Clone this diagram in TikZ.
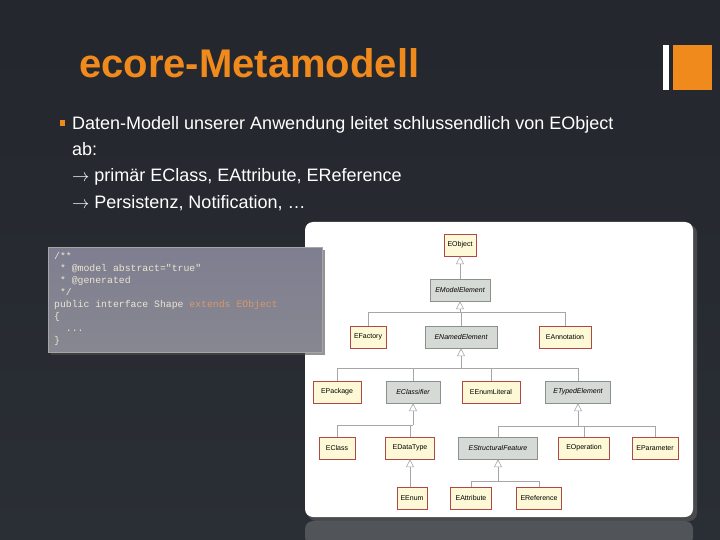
\documentclass[tikz,border=0pt]{standalone}
\usepackage{fontspec}
\setmainfont{Liberation Sans}
\newfontfamily\codefont{Liberation Mono}
\usetikzlibrary{arrows.meta}
\definecolor{slidebg}{HTML}{2A2E35}
\definecolor{titleorange}{HTML}{F08A1C}
\definecolor{clsfill}{HTML}{FDF9D6}
\definecolor{clsdraw}{HTML}{B04848}
\definecolor{absfill}{HTML}{D6DAD6}
\definecolor{absdraw}{HTML}{8A908A}
\definecolor{codetext}{HTML}{ECE6D0}
\definecolor{codekey}{HTML}{D89A68}
\tikzset{
  cls/.style={
    rectangle, draw=clsdraw, fill=clsfill,
    thin, text centered, font=\fontsize{7}{8}\selectfont,
    minimum height=22pt, inner sep=2pt
  },
  abs/.style={
    cls, draw=absdraw, fill=absfill,
    font=\fontsize{7}{8}\selectfont\itshape
  },
  bullet/.style={anchor=base west, text=white, inner sep=0pt, font=\fontsize{18}{20}\selectfont},
  code/.style={anchor=base west, inner sep=0pt},
  link/.style={draw=gray!70, line width=0.6pt},
  gen/.style={link, {Triangle[open, length=8pt, width=8pt, fill=white]}-}
}

\begin{document}
\begin{tikzpicture}[x=1pt, y=-1pt]

% ==============================================================================
% Slide background
% ==============================================================================
\useasboundingbox (0,0) rectangle (720,540);
\shade[top color=slidebg!85!black, bottom color=slidebg] (0,0) rectangle (720,540);

% corner mark
\fill[white] (663,45) rectangle (669,90);
\fill[titleorange] (673,45) rectangle (712,90);

% ==============================================================================
% Title and bullets
% ==============================================================================
\node[anchor=base west, inner sep=0pt, text=titleorange, font=\fontsize{40}{42}\selectfont\bfseries] (title) at (79,78) {ecore-Metamodell};

\fill[titleorange] (60,120) rectangle (65,126);
\node[bullet] (b1) at (72,130) {Daten-Modell unserer Anwendung leitet schlussendlich von EObject};
\node[bullet] (b2) at (72,156) {ab:};
\node[bullet] (b3) at (72,182) {$\rightarrow$ primär EClass, EAttribute, EReference};
\node[bullet] (b4) at (72,208) {$\rightarrow$ Persistenz, Notification, \dots};

% ==============================================================================
% Diagram panel
% ==============================================================================
\fill[black!60, opacity=0.5, rounded corners=8pt] (308,225) rectangle (697,521);
\fill[white, rounded corners=8pt] (305,222) rectangle (693,517);
\fill[gray!45, opacity=0.25, rounded corners=8pt] (305,521) rectangle (693,545);

% ==============================================================================
% Code box
% ==============================================================================
\fill[black!70, opacity=0.6] (51,250) rectangle (325,355);
\shade[top color=gray!55!blue!30!black!55, bottom color=gray!60!blue!20!black!50, draw=gray!70] (48,247) rectangle (322,352);
\begin{scope}[font=\codefont\fontsize{9.8}{10}\selectfont, text=codetext]
  \node[code] (c1) at (54,259) {/**};
  \node[code] (c2) at (54,271) {\ * @model abstract="true"};
  \node[code] (c3) at (54,283) {\ * @generated};
  \node[code] (c4) at (54,295) {\ */};
  \node[code] (c5) at (54,307) {public interface Shape \textcolor{codekey}{extends EObject}};
  \node[code] (c6) at (54,319) {\{};
  \node[code] (c7) at (54,331) {\ \ ...};
  \node[code] (c8) at (54,343) {\}};
\end{scope}

% ==============================================================================
% Classes
% ==============================================================================
\node[cls, minimum width=32pt] (eobject) at (460,245) {EObject};
\node[abs, minimum width=60pt] (emodel) at (460,290) {EModelElement};

\node[cls, minimum width=36pt] (efactory) at (368,337) {EFactory};
\node[abs, minimum width=72pt] (enamed) at (461,337) {ENamedElement};
\node[cls, minimum width=52pt] (eannot) at (565,337) {EAnnotation};

\node[cls, minimum width=48pt] (epackage) at (337,392) {EPackage};
\node[abs, minimum width=54pt] (eclassifier) at (413,392) {EClassifier};
\node[cls, minimum width=58pt] (eenumlit) at (491,392) {EEnumLiteral};
\node[abs, minimum width=65pt] (etyped) at (578,392) {ETypedElement};

\node[cls, minimum width=36pt] (eclass) at (337,448) {EClass};
\node[cls, minimum width=49pt] (edatatype) at (410,448) {EDataType};
\node[abs, minimum width=79pt] (estruct) at (498,448) {EStructuralFeature};
\node[cls, minimum width=51pt] (eoperation) at (584,448) {EOperation};
\node[cls, minimum width=46pt] (eparam) at (655,448) {EParameter};

\node[cls, minimum width=30pt] (eenum) at (412,498) {EEnum};
\node[cls, minimum width=41pt] (eattr) at (471,498) {EAttribute};
\node[cls, minimum width=45pt] (eref) at (539,498) {EReference};

% ==============================================================================
% Generalisations
% ==============================================================================
\draw[gen] (eobject.south) -- (emodel.north);

\draw[gen] (emodel.south) -- (emodel.south |- 0,312);
\foreach \c in {efactory, enamed, eannot}
  \draw[link] (\c.north) |- (emodel.south |- 0,312);

\draw[gen] (enamed.south) -- (enamed.south |- 0,368);
\foreach \c in {epackage, eclassifier, eenumlit, etyped}
  \draw[link] (\c.north) |- (enamed.south |- 0,368);

\draw[gen] (eclassifier.south) -- (eclassifier.south |- 0,425);
\foreach \c in {eclass, edatatype}
  \draw[link] (\c.north) |- (eclassifier.south |- 0,425);

\draw[gen] (etyped.south) -- (etyped.south |- 0,426);
\foreach \c in {estruct, eoperation, eparam}
  \draw[link] (\c.north) |- (etyped.south |- 0,426);

\draw[gen] (edatatype.south) -- (edatatype.south |- eenum.north);

\draw[gen] (estruct.south) -- (estruct.south |- 0,481);
\foreach \c in {eattr, eref}
  \draw[link] (\c.north) |- (estruct.south |- 0,481);

\end{tikzpicture}
\end{document}
